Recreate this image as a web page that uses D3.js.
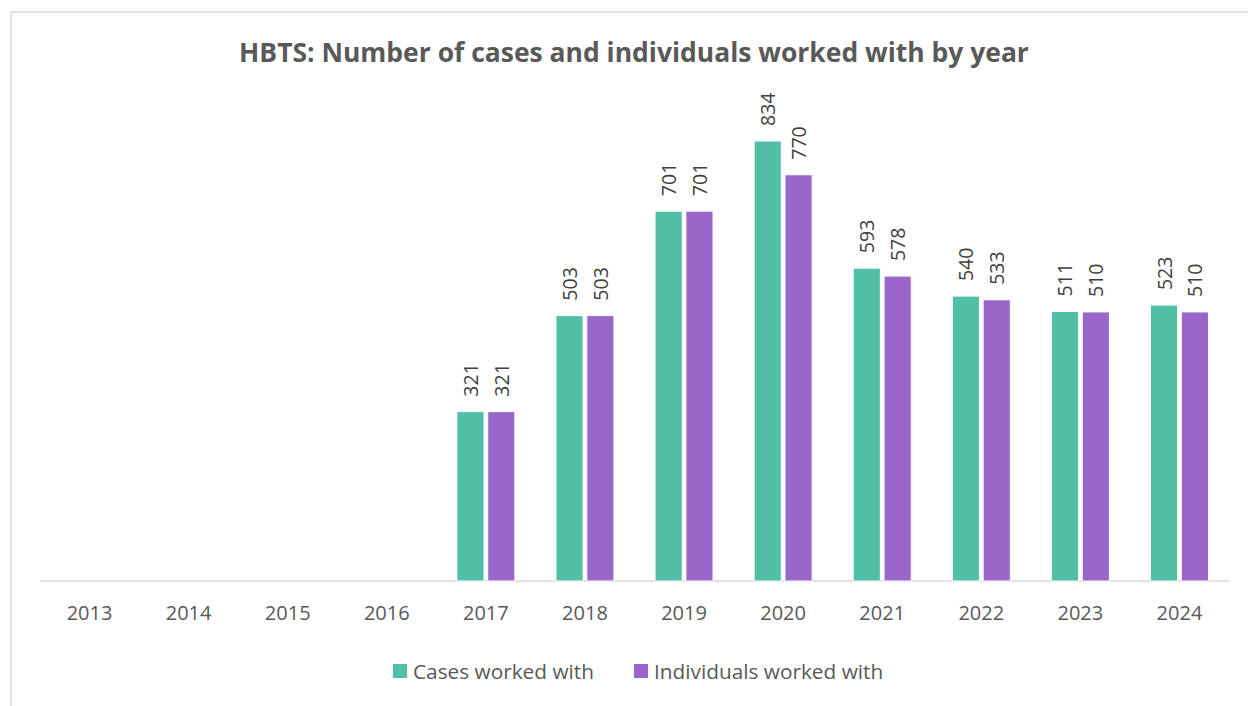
<!DOCTYPE html>
<html>
<head>
<meta charset="utf-8">
<script src="https://cdn.jsdelivr.net/npm/d3@7"></script>
<style>
  body { margin: 0; background: #fff; }
  svg { display: block; font-family: "Open Sans", "Noto Sans", sans-serif; }
</style>
</head>
<body>
<svg id="chart"></svg>
<script>
const years = ["2013", "2014", "2015", "2016", "2017", "2018", "2019", "2020", "2021", "2022", "2023", "2024"];
const cases = [null, null, null, null, 321, 503, 701, 834, 593, 540, 511, 523];
const individuals = [null, null, null, null, 321, 503, 701, 770, 578, 533, 510, 510];
const seriesNames = ["Cases worked with", "Individuals worked with"];
const seriesColors = ["#50bfa5", "#9966c9"];

const width = 1248;
const height = 706;

const svg = d3.select("#chart")
    .attr("width", width)
    .attr("height", height);

// chart area border (runs off the right and bottom edges)
svg.append("rect")
    .attr("x", 11)
    .attr("y", 12)
    .attr("width", 1260)
    .attr("height", 720)
    .attr("fill", "#fff")
    .attr("stroke", "#d9d9d9")
    .attr("stroke-width", 1.5);

const baseY = 581;

const x = d3.scaleBand()
    .domain(years)
    .range([40, 1229]);

const x1 = d3.scaleBand()
    .domain(seriesNames)
    .range([0, 58])
    .paddingInner(0.12);

const y = d3.scaleLinear()
    .domain([0, 900])
    .range([baseY, baseY - 900 * 440 / 834]);

let rows = years.map((yr, i) => ({
    year: yr,
    values: [cases[i], individuals[i]]
}));

// title, sized to the reference width
const title = svg.append("text")
    .attr("x", 634)
    .attr("y", 52)
    .attr("text-anchor", "middle")
    .attr("dominant-baseline", "central")
    .attr("font-size", 24)
    .attr("font-weight", "bold")
    .attr("fill", "#595959")
    .text("HBTS: Number of cases and individuals worked with by year");
let tw = title.node().getComputedTextLength();
title.attr("font-size", 24 * 790 / tw);

// baseline
svg.append("line")
    .attr("x1", 40)
    .attr("x2", 1229)
    .attr("y1", baseY)
    .attr("y2", baseY)
    .attr("stroke", "#d9d9d9")
    .attr("stroke-width", 1.5);

// bars
const groups = svg.selectAll("g.year")
    .data(rows)
    .enter().append("g")
    .attr("class", "year")
    .attr("transform", d => `translate(${x(d.year) + x.bandwidth() / 2 - 29},0)`);

groups.selectAll("rect")
    .data(d => d.values.map((v, j) => ({ name: seriesNames[j], value: v, color: seriesColors[j] })).filter(e => e.value != null))
    .enter().append("rect")
    .attr("x", d => x1(d.name))
    .attr("width", x1.bandwidth())
    .attr("y", d => y(d.value))
    .attr("height", d => baseY - y(d.value))
    .attr("fill", d => d.color)
    .attr("stroke", "#fff")
    .attr("stroke-width", 1);

groups.selectAll("text.val")
    .data(d => d.values.map((v, j) => ({ name: seriesNames[j], value: v })).filter(e => e.value != null))
    .enter().append("text")
    .attr("class", "val")
    .attr("transform", d => `translate(${x1(d.name) + x1.bandwidth() / 2},${y(d.value) - 15}) rotate(-90)`)
    .attr("dominant-baseline", "central")
    .attr("text-anchor", "start")
    .attr("font-size", 19.5)
    .attr("fill", "#404040")
    .text(d => d.value);

// year labels
svg.selectAll("text.yr")
    .data(years)
    .enter().append("text")
    .attr("class", "yr")
    .attr("x", d => x(d) + x.bandwidth() / 2)
    .attr("y", 612)
    .attr("text-anchor", "middle")
    .attr("dominant-baseline", "central")
    .attr("font-size", 20)
    .attr("fill", "#595959")
    .text(d => d);

// legend
const legendX = [393, 634];
const legend = svg.selectAll("g.legend")
    .data(seriesNames)
    .enter().append("g")
    .attr("class", "legend")
    .attr("transform", (d, i) => `translate(${legendX[i]},671)`);

legend.append("rect")
    .attr("x", 0)
    .attr("y", -7)
    .attr("width", 14)
    .attr("height", 14)
    .attr("fill", (d, i) => seriesColors[i]);

legend.append("text")
    .attr("x", 20)
    .attr("y", 0)
    .attr("dominant-baseline", "central")
    .attr("font-size", 20.8)
    .attr("fill", "#595959")
    .text(d => d);
</script>
</body>
</html>
